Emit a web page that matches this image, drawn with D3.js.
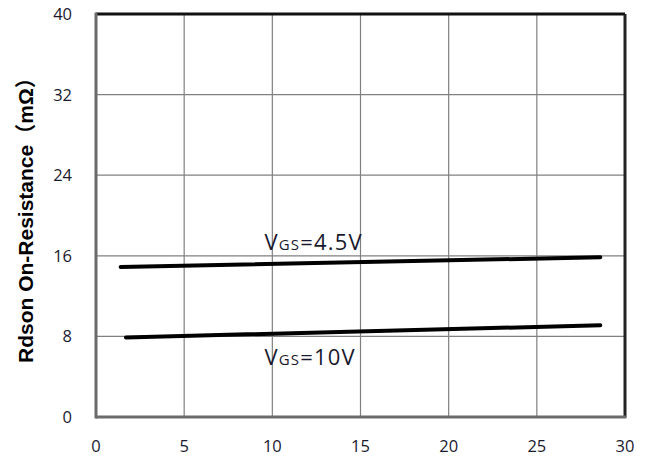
<!DOCTYPE html>
<html><head><meta charset="utf-8">
<script src="https://cdn.jsdelivr.net/npm/d3@7"></script>
<style>body{margin:0;background:#fff}</style>
</head><body>
<svg id="c" width="658" height="460"></svg>
<script>
const xTicks = [0,5,10,15,20,25,30];
const yTicks = [0,8,16,24,32,40];
const series45X = [1.4, 28.6];
const series45Y = [14.9, 15.85];
const series10X = [1.7, 28.6];
const series10Y = [7.9, 9.1];
const labels = [
  {base:"V", sub:"GS", rest:"=4.5V", x:9.55, y:16.53},
  {base:"V", sub:"GS", rest:"=10V", x:9.55, y:5.15}
];
const yTitle = "Rdson On-Resistance（mΩ）";

const svg = d3.select("#c");
const L=96, R=625, T=14, B=417;
const x = d3.scaleLinear().domain([0,30]).range([L,R]);
const y = d3.scaleLinear().domain([0,40]).range([B,T]);

// grid
svg.append("g").selectAll("line").data(xTicks.slice(1,-1)).join("line")
  .attr("x1",d=>x(d)).attr("x2",d=>x(d)).attr("y1",T).attr("y2",B)
  .attr("stroke","#808080").attr("stroke-width",1.2);
svg.append("g").selectAll("line").data(yTicks.slice(1,-1)).join("line")
  .attr("y1",d=>y(d)).attr("y2",d=>y(d)).attr("x1",L).attr("x2",R)
  .attr("stroke","#808080").attr("stroke-width",1.2);

// frame
svg.append("line").attr("x1",L).attr("x2",R).attr("y1",T).attr("y2",T).attr("stroke","#111").attr("stroke-width",3);
svg.append("line").attr("x1",R).attr("x2",R).attr("y1",T).attr("y2",B).attr("stroke","#222").attr("stroke-width",3);
svg.append("line").attr("x1",L).attr("x2",L).attr("y1",T-1.5).attr("y2",B+1.5).attr("stroke","#6b6b6b").attr("stroke-width",3);
svg.append("line").attr("x1",L).attr("x2",R+1.5).attr("y1",B).attr("y2",B).attr("stroke","#6b6b6b").attr("stroke-width",3);

// tick labels
svg.append("g").selectAll("text").data(yTicks).join("text")
  .attr("x",L-24).attr("y",d=>y(d)).attr("dy","0.36em")
  .attr("text-anchor","end").attr("font-family","Open Sans, sans-serif")
  .attr("font-size",16.5).attr("fill","#1a1a2e").text(d=>d);
svg.append("g").selectAll("text").data(xTicks).join("text")
  .attr("x",d=>x(d)).attr("y",452)
  .attr("text-anchor","middle").attr("font-family","Open Sans, sans-serif")
  .attr("font-size",16.5).attr("fill","#1a1a2e").text(d=>d);

// y title
svg.append("text").attr("transform",`translate(33,363) rotate(-90)`)
  .attr("text-anchor","start").attr("font-family","'Liberation Sans', 'Noto Sans CJK SC', sans-serif")
  .attr("font-weight","bold").attr("font-size",21).attr("fill","#000").text(yTitle);

// lines
const line = d3.line().x(d=>x(d[0])).y(d=>y(d[1]));
[[series45X,series45Y],[series10X,series10Y]].forEach(([xs,ys])=>{
  svg.append("path").datum(xs.map((v,i)=>[v,ys[i]])).attr("d",line)
    .attr("fill","none").attr("stroke","#000").attr("stroke-width",4).attr("stroke-linecap","round");
});

// labels
labels.forEach(l=>{
  const t = svg.append("text").attr("x",x(l.x)).attr("y",y(l.y))
    .attr("font-family","Open Sans, sans-serif").attr("font-size",22)
    .attr("letter-spacing",1.2).attr("fill","#1a1a2e");
  t.append("tspan").text(l.base);
  t.append("tspan").attr("font-size",15).text(l.sub);
  t.append("tspan").text(l.rest);
});
</script>
</body></html>
